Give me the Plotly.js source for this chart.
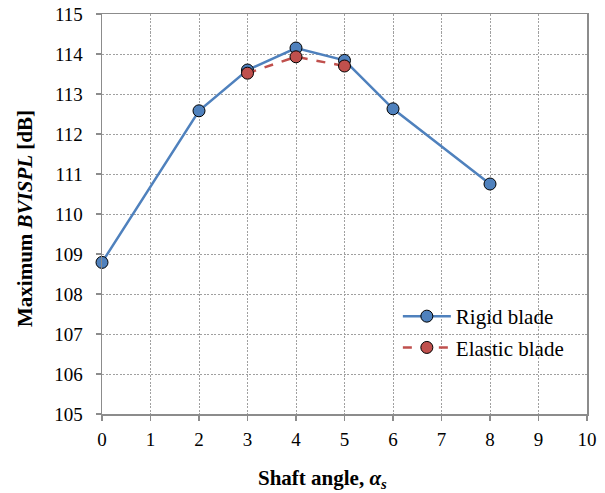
<!DOCTYPE html>
<html>
<head>
<meta charset="utf-8">
<script src="https://cdn.plot.ly/plotly-3.0.1.min.js"></script>
<style>html,body{margin:0;padding:0;background:#fff;}#chart{width:605px;height:493px;}</style>
</head>
<body>
<div id="chart"></div>
<script>
const rigidX = [0, 2, 3, 4, 5, 6, 8];
const rigidY = [108.79, 112.58, 113.60, 114.15, 113.84, 112.63, 110.75];
const elasticX = [3, 4, 5];
const elasticY = [113.52, 113.93, 113.70];
const xTicks = [0,1,2,3,4,5,6,7,8,9,10];
const yTicks = [105,106,107,108,109,110,111,112,113,114,115];
const xTitle = '<b>Shaft angle, <i>α<sub>s</sub></i></b>';
const yTitle = '<b>Maximum <i>BVISPL</i> [dB]</b>';

const SERIF = 'Liberation Serif';

const traces = [
  {x: rigidX, y: rigidY, name: 'Rigid blade', legendgroup: 'r', type: 'scatter', mode: 'lines+markers',
   line: {color: '#4F81BD', width: 2.5},
   marker: {color: '#4F81BD', size: 12, line: {color: '#000', width: 1}}, cliponaxis: false},
  {x: elasticX, y: elasticY, name: 'Elastic blade', legendgroup: 'e', type: 'scatter', mode: 'lines+markers',
   line: {color: '#C0504D', width: 2.5, dash: 'dash'},
   marker: {color: '#C0504D', size: 12, line: {color: '#000', width: 1}}, cliponaxis: false}
];

const layout = {
  width: 605, height: 493,
  margin: {l: 102, r: 18, t: 14, b: 79},
  paper_bgcolor: '#fff', plot_bgcolor: '#fff',
  font: {family: SERIF, size: 19, color: '#000'},
  showlegend: true,
  legend: {x: 0.61, y: 0.295, xanchor: 'left', yanchor: 'top', bgcolor: 'rgba(0,0,0,0)',
           font: {family: SERIF, size: 21, color: '#000'}, traceorder: 'grouped',
           tracegroupgap: 1, itemwidth: 48},
  xaxis: {
    showline: true, linecolor: '#8c8c8c', linewidth: 1.5, mirror: true,
    showgrid: true, gridcolor: '#a0a0a0', griddash: '2px,1.5px', gridwidth: 1,
    ticks: 'outside', ticklen: 5, tickcolor: '#8c8c8c', tickwidth: 1.5, zeroline: false,
    range: [0, 10], tickvals: xTicks, ticktext: xTicks.map(String), ticklabelstandoff: 3,
    tickfont: {family: SERIF, size: 19, color: '#000'}
  },
  yaxis: {
    showline: true, linecolor: '#8c8c8c', linewidth: 1.5, mirror: true,
    showgrid: true, gridcolor: '#a0a0a0', griddash: '2px,1.5px', gridwidth: 1,
    ticks: 'outside', ticklen: 5, tickcolor: '#8c8c8c', tickwidth: 1.5, zeroline: false,
    range: [105, 115], tickvals: yTicks, ticktext: yTicks.map(String), ticklabelstandoff: 9,
    tickfont: {family: SERIF, size: 19, color: '#000'}
  },
  annotations: [
    {text: xTitle, xref: 'paper', yref: 'paper', x: (322 - 102) / 485, y: -(479 - 414) / 400,
     xanchor: 'center', yanchor: 'middle', showarrow: false,
     font: {family: SERIF, size: 21, color: '#000'}},
    {text: yTitle, xref: 'paper', yref: 'paper', x: (25 - 102) / 485, y: 1 - (219 - 14) / 400,
     xanchor: 'center', yanchor: 'middle', textangle: -90, showarrow: false,
     font: {family: SERIF, size: 21, color: '#000'}}
  ]
};

Plotly.newPlot('chart', traces, layout, {staticPlot: true, displayModeBar: false});
</script>
</body>
</html>
